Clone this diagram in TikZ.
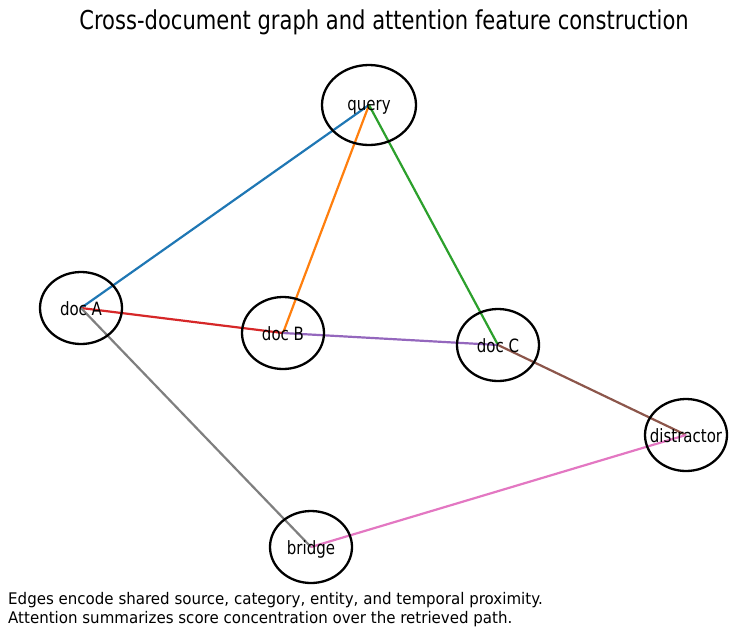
\documentclass[tikz,border=0pt]{standalone}
\usepackage{graphicx}
\usepackage{fontspec}
\setmainfont{DejaVu Sans}
\usetikzlibrary{shapes.geometric}
\definecolor{tabblue}{HTML}{1F77B4}
\definecolor{taborange}{HTML}{FF7F0E}
\definecolor{tabgreen}{HTML}{2CA02C}
\definecolor{tabred}{HTML}{D62728}
\definecolor{tabpurple}{HTML}{9467BD}
\definecolor{tabbrown}{HTML}{8C564B}
\definecolor{tabpink}{HTML}{E377C2}
\definecolor{tabgray}{HTML}{7F7F7F}
% narrow type: tall glyphs squeezed horizontally
\newcommand{\narrowtext}[2]{\scalebox{#1}[1]{#2}}
\tikzset{
  docnode/.style={ellipse, draw=black, line width=2.3pt, inner sep=0pt,
    minimum width=82pt, minimum height=72pt},
  querynode/.style={docnode, minimum width=94pt, minimum height=80pt},
  nodetext/.style={font=\fontsize{18.3}{20}\selectfont, inner sep=0pt, anchor=base},
  edge/.style={line width=2.2pt},
  caption/.style={font=\fontsize{16}{19}\selectfont, anchor=base west, inner sep=0pt}
}
\begin{document}
\begin{tikzpicture}[x=1pt, y=-1pt]
  \useasboundingbox (0,0) rectangle (735,635);
  \path
    (369,105)   coordinate (cq)
    (81,308)    coordinate (ca)
    (283,333)   coordinate (cb)
    (498,345)   coordinate (cc)
    (686,435)   coordinate (cd)
    (311,547)   coordinate (ce);
  % connectors between the document nodes
  \draw[edge, tabblue]   (cq) -- (ca);
  \draw[edge, taborange] (cq) -- (cb);
  \draw[edge, tabgreen]  (cq) -- (cc);
  \draw[edge, tabred]    (ca) -- (cb);
  \draw[edge, tabgray]   (ca) -- (ce);
  \draw[edge, tabpurple] (cb) -- (cc);
  \draw[edge, tabbrown]  (cc) -- (cd);
  \draw[edge, tabpink]   (cd) -- (ce);
  % vertices: fixed-size ellipses with the label set on top
  \node[querynode] (query)      at (cq) {};
  \node[docnode]   (docA)       at (ca) {};
  \node[docnode]   (docB)       at (cb) {};
  \node[docnode]   (docC)       at (cc) {};
  \node[docnode]   (distractor) at (cd) {};
  \node[docnode]   (bridge)     at (ce) {};
  \node[nodetext] (tq) at ([yshift=-5pt]query.center)      {\narrowtext{0.82}{query}};
  \node[nodetext] (ta) at ([yshift=-7pt]docA.center)       {\narrowtext{0.82}{doc A}};
  \node[nodetext] (tb) at ([yshift=-7pt]docB.center)       {\narrowtext{0.82}{doc B}};
  \node[nodetext] (tc) at ([yshift=-7pt]docC.center)       {\narrowtext{0.82}{doc C}};
  \node[nodetext] (td) at ([yshift=-7pt]distractor.center) {\narrowtext{0.82}{distractor}};
  \node[nodetext] (te) at ([yshift=-7pt]bridge.center)     {\narrowtext{0.82}{bridge}};
  % title and caption
  \node[font=\fontsize{26}{30}\selectfont, inner sep=0pt, anchor=base] (title) at (384,29)
    {\narrowtext{0.81}{Cross-document graph and attention feature construction}};
  \node[caption] (cap1) at (8,604)
    {\narrowtext{0.94}{Edges encode shared source, category, entity, and temporal proximity.}};
  \node[caption] (cap2) at (8,623)
    {\narrowtext{0.94}{Attention summarizes score concentration over the retrieved path.}};
\end{tikzpicture}
\end{document}
